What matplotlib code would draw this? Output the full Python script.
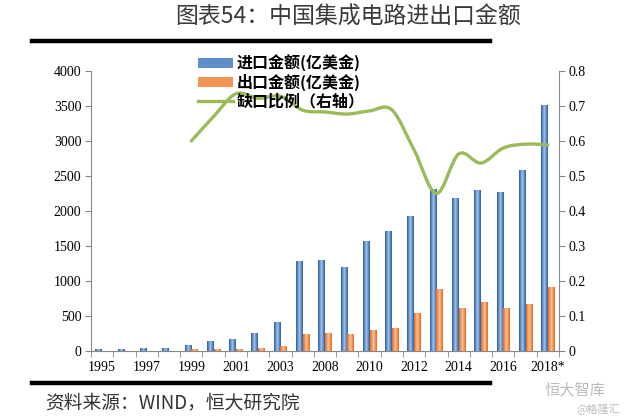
import matplotlib
matplotlib.use("Agg")
import matplotlib.pyplot as plt
import numpy as np
from matplotlib.path import Path
from matplotlib.patches import PathPatch, Patch
from matplotlib.lines import Line2D
from matplotlib.colors import LinearSegmentedColormap

plt.rcParams['font.family'] = ['Noto Sans CJK SC', 'DejaVu Sans']

years = ["1995", "1996", "1997", "1998", "1999", "2000", "2001", "2002", "2003",
         "2007", "2008", "2009", "2010", "2011", "2012", "2013", "2014", "2015",
         "2016", "2017", "2018*"]
imports = [25, 30, 40, 45, 86, 143, 171, 252, 419, 1286, 1300, 1200, 1571,
           1714, 1933, 2310, 2190, 2300, 2271, 2586, 3514]
exports = [5, 5, 6, 7, 25, 29, 29, 48, 76, 243, 252, 243, 300, 333, 538,
           886, 619, 695, 619, 671, 919]
gap_ratio = [None, None, None, None, 0.60, 0.67, 0.735, 0.722, 0.728, 0.688,
             0.683, 0.677, 0.686, 0.689, 0.574, 0.45, 0.563, 0.537, 0.58,
             0.591, 0.589]

label_imp = "进口金额(亿美金)"
label_exp = "出口金额(亿美金)"
label_gap = "缺口比例（右轴）"
title = "图表54：中国集成电路进出口金额"
source = "资料来源：WIND，恒大研究院"

fig = plt.figure(figsize=(6.31, 4.19), dpi=100)
ax = fig.add_axes([91/631, 1-351/419, (559-91)/631, (351-71)/419])
ax2 = ax.twinx()

x = np.arange(len(years))
w = 0.3
blue_cmap = LinearSegmentedColormap.from_list("b", ["#2C5C9C", "#5F8FCB", "#A9C4E6", "#5F8FCB", "#2C5C9C"])
orange_cmap = LinearSegmentedColormap.from_list("o", ["#E06A22", "#F39553", "#F9C49C", "#F39553", "#E06A22"])
grad = np.linspace(0, 1, 64).reshape(1, -1)

bars_i = ax.bar(x - w/2, imports, width=w, color="#4A7DBF", edgecolor="none", zorder=2)
bars_e = ax.bar(x + w/2, exports, width=w, color="#F08E4A", edgecolor="none", zorder=2)
for bars, cm in ((bars_i, blue_cmap), (bars_e, orange_cmap)):
    for b in bars:
        x0, y0 = b.get_x(), b.get_y()
        im = ax.imshow(grad, extent=(x0, x0 + b.get_width(), y0, y0 + b.get_height()),
                       aspect='auto', cmap=cm, zorder=2.5, interpolation='bilinear')
        im.set_clip_path(b)

ax.set_xlim(-0.5, len(years) - 0.5)
ax.set_ylim(0, 4000)
ax.set_aspect('auto')
ax.set_yticks(np.arange(0, 4001, 500))
ax2.set_ylim(0, 0.8)
ax2.set_yticks(np.arange(0, 0.81, 0.1))
ax2.set_yticklabels(["0"] + [f"{v:.1f}" for v in np.arange(0.1, 0.81, 0.1)])

ax.set_xticks(x[::2])
ax.set_xticklabels(years[::2])
ax.set_xticks(np.arange(-0.5, len(years), 1.0), minor=True)
ax.tick_params(axis='x', which='major', length=0, pad=7)
ax.tick_params(axis='x', which='minor', length=4, color="#888888")

for lab in ax.get_xticklabels() + ax.get_yticklabels() + ax2.get_yticklabels():
    lab.set_fontfamily('Liberation Serif')
    lab.set_fontsize(10)
ax.tick_params(axis='y', length=4, color="#888888", pad=3)
ax2.tick_params(axis='y', length=4, color="#888888", pad=3)

for a in (ax, ax2):
    a.spines['top'].set_visible(False)
    for s in ('left', 'right', 'bottom'):
        a.spines[s].set_color("#888888")
ax2.spines['left'].set_visible(False)
ax.spines['right'].set_visible(False)
ax2.spines['bottom'].set_visible(False)

# smoothed line through the data points (Catmull-Rom -> cubic Bezier)
px = [i for i, v in enumerate(gap_ratio) if v is not None]
py = [v for v in gap_ratio if v is not None]
pts = np.column_stack([px, py]).astype(float)
verts = [tuple(pts[0])]
codes = [Path.MOVETO]
n = len(pts)
for i in range(n - 1):
    p0 = pts[i - 1] if i > 0 else pts[i]
    p1 = pts[i]
    p2 = pts[i + 1]
    p3 = pts[i + 2] if i + 2 < n else pts[i + 1]
    c1 = p1 + (p2 - p0) / 6
    c2 = p2 - (p3 - p1) / 6
    verts += [tuple(c1), tuple(c2), tuple(p2)]
    codes += [Path.CURVE4] * 3
ax2.add_patch(PathPatch(Path(verts, codes), facecolor='none', edgecolor="#9BBB59",
                        linewidth=2.4, zorder=3, capstyle='round'))

handles = [Patch(facecolor="#5F8FCB", edgecolor="none"),
           Patch(facecolor="#F39553", edgecolor="none"),
           Line2D([0], [0], color="#9BBB59", lw=2.4)]
leg = fig.legend(handles, [label_imp, label_exp, label_gap], loc='upper left',
                 bbox_to_anchor=(198/631, 1-55/419), frameon=False,
                 prop={'family': ['Noto Sans CJK SC', 'DejaVu Sans'], 'size': 11.5, 'weight': 'bold'},
                 handlelength=2.2, handleheight=0.6, handletextpad=0.2, labelspacing=0.12,
                 borderpad=0, borderaxespad=0)

fig.text(348/631, 1-17/419, title, ha='center', va='center', fontsize=16.5, color="#3A3A3A")
fig.add_artist(Line2D([32/631, 490/631], [1-41.5/419, 1-41.5/419], color='black', lw=3.2))
fig.add_artist(Line2D([32/631, 490/631], [1-382.5/419, 1-382.5/419], color='black', lw=3.2))
fig.text(45/631, 1-403/419, source, ha='left', va='center', fontsize=13.5,
         color="#333333", style='italic')
fig.text(575/631, 1-390/419, "恒大智库", ha='center', va='center', fontsize=11, color="#BBBBBB")
fig.text(598/631, 1-409/419, "@格隆汇", ha='center', va='center', fontsize=8, color="#BBBBBB")

fig.savefig("out.png", dpi=100)
